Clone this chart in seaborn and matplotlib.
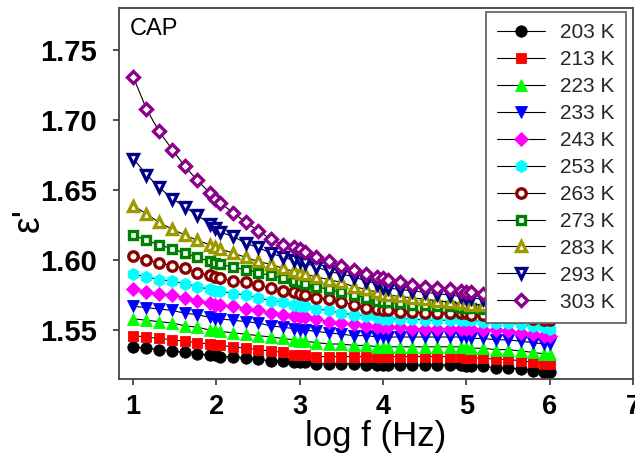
import numpy as np
import pandas as pd
import seaborn as sns
import matplotlib
matplotlib.use("Agg")
from matplotlib import pyplot as plt

sns.set_style("ticks")
plt.rcParams['font.family'] = ['Liberation Sans', 'DejaVu Sans']
plt.rcParams['xtick.bottom'] = True
plt.rcParams['ytick.left'] = True
# ------------------------------------
# log f (Hz) sample points
logf = [1.0, 1.16, 1.31, 1.47, 1.62, 1.77, 1.92, 1.98, 2.04, 2.2, 2.35, 2.5, 2.65, 2.8, 2.93,
        3.0, 3.06, 3.2, 3.35, 3.5, 3.65, 3.8, 3.93, 4.0, 4.06, 4.2, 4.35, 4.5, 4.65, 4.8, 4.93,
        5.0, 5.06, 5.2, 5.35, 5.5, 5.65, 5.8, 5.93, 6.0]

eps_203 = [1.538, 1.537, 1.536, 1.535, 1.534, 1.533, 1.532, 1.532, 1.531, 1.531, 1.530, 1.529, 1.528, 1.528, 1.527,
           1.527, 1.527, 1.526, 1.526, 1.526, 1.526, 1.525, 1.525, 1.525, 1.525, 1.525, 1.525, 1.525, 1.525, 1.525, 1.525,
           1.524, 1.524, 1.524, 1.523, 1.523, 1.522, 1.521, 1.520, 1.520]
eps_213 = [1.546, 1.545, 1.544, 1.543, 1.542, 1.541, 1.540, 1.539, 1.539, 1.538, 1.537, 1.536, 1.535, 1.534, 1.532,
           1.532, 1.532, 1.531, 1.531, 1.531, 1.531, 1.531, 1.531, 1.531, 1.531, 1.531, 1.531, 1.531, 1.531, 1.531, 1.531,
           1.530, 1.530, 1.530, 1.529, 1.529, 1.528, 1.527, 1.526, 1.526]
eps_223 = [1.558, 1.557, 1.556, 1.555, 1.553, 1.552, 1.550, 1.550, 1.549, 1.548, 1.547, 1.546, 1.545, 1.544, 1.543,
           1.542, 1.542, 1.541, 1.540, 1.540, 1.539, 1.539, 1.538, 1.538, 1.538, 1.538, 1.538, 1.538, 1.538, 1.538, 1.538,
           1.538, 1.537, 1.537, 1.536, 1.536, 1.535, 1.534, 1.533, 1.533]
eps_233 = [1.567, 1.566, 1.565, 1.564, 1.562, 1.561, 1.559, 1.558, 1.558, 1.557, 1.556, 1.555, 1.553, 1.552, 1.551,
           1.550, 1.550, 1.549, 1.548, 1.547, 1.546, 1.546, 1.545, 1.545, 1.545, 1.545, 1.545, 1.545, 1.545, 1.545, 1.545,
           1.545, 1.544, 1.544, 1.543, 1.543, 1.542, 1.541, 1.540, 1.540]
eps_243 = [1.579, 1.577, 1.576, 1.575, 1.573, 1.571, 1.569, 1.568, 1.568, 1.567, 1.565, 1.564, 1.562, 1.561, 1.560,
           1.559, 1.559, 1.558, 1.556, 1.555, 1.554, 1.553, 1.552, 1.552, 1.552, 1.552, 1.551, 1.551, 1.551, 1.551, 1.551,
           1.551, 1.551, 1.550, 1.550, 1.549, 1.548, 1.547, 1.546, 1.546]
eps_253 = [1.590, 1.588, 1.586, 1.585, 1.583, 1.581, 1.579, 1.578, 1.578, 1.576, 1.575, 1.573, 1.571, 1.570, 1.568,
           1.567, 1.567, 1.565, 1.564, 1.562, 1.561, 1.560, 1.559, 1.558, 1.558, 1.558, 1.558, 1.557, 1.557, 1.557, 1.557,
           1.557, 1.557, 1.556, 1.555, 1.555, 1.554, 1.553, 1.552, 1.551]
eps_263 = [1.603, 1.600, 1.598, 1.596, 1.594, 1.591, 1.589, 1.588, 1.587, 1.585, 1.584, 1.582, 1.580, 1.578, 1.577,
           1.576, 1.575, 1.573, 1.572, 1.570, 1.568, 1.566, 1.565, 1.564, 1.564, 1.563, 1.563, 1.562, 1.562, 1.562, 1.562,
           1.562, 1.561, 1.561, 1.560, 1.559, 1.559, 1.558, 1.557, 1.557]
eps_273 = [1.618, 1.614, 1.611, 1.608, 1.605, 1.602, 1.599, 1.598, 1.597, 1.595, 1.593, 1.591, 1.589, 1.587, 1.585,
           1.584, 1.583, 1.581, 1.579, 1.577, 1.575, 1.573, 1.571, 1.570, 1.570, 1.569, 1.568, 1.568, 1.567, 1.567, 1.566,
           1.566, 1.566, 1.565, 1.564, 1.564, 1.563, 1.562, 1.561, 1.561]
eps_283 = [1.639, 1.633, 1.627, 1.622, 1.618, 1.614, 1.611, 1.6095, 1.608, 1.605, 1.602, 1.599, 1.597, 1.594, 1.592,
           1.591, 1.590, 1.588, 1.586, 1.584, 1.581, 1.579, 1.577, 1.576, 1.575, 1.574, 1.573, 1.572, 1.571, 1.570, 1.569,
           1.569, 1.568, 1.568, 1.567, 1.566, 1.565, 1.564, 1.564, 1.563]
eps_293 = [1.6726, 1.661, 1.652, 1.644, 1.638, 1.632, 1.626, 1.623, 1.620, 1.617, 1.612, 1.609, 1.605, 1.602, 1.600,
           1.599, 1.598, 1.595, 1.592, 1.590, 1.588, 1.585, 1.583, 1.581, 1.580, 1.579, 1.578, 1.577, 1.576, 1.575, 1.574,
           1.573, 1.573, 1.572, 1.571, 1.570, 1.569, 1.568, 1.567, 1.567]
eps_303 = [1.731, 1.708, 1.692, 1.679, 1.667, 1.657, 1.648, 1.644, 1.641, 1.634, 1.627, 1.621, 1.615, 1.611, 1.609,
           1.608, 1.606, 1.602, 1.599, 1.596, 1.593, 1.590, 1.588, 1.587, 1.586, 1.584, 1.582, 1.581, 1.580, 1.579, 1.578,
           1.577, 1.577, 1.576, 1.575, 1.574, 1.573, 1.572, 1.571, 1.571]

temps = ["203 K", "213 K", "223 K", "233 K", "243 K", "253 K", "263 K", "273 K", "283 K", "293 K", "303 K"]
series = [eps_203, eps_213, eps_223, eps_233, eps_243, eps_253, eps_263, eps_273, eps_283, eps_293, eps_303]
# ---------------------
# marker, colour, filled?
markers = ["o", "s", "^", "v", "D", "h", "o", "s", "^", "v", "D"]
colors = ["#000000", "#ff0000", "#00ff00", "#0000ff", "#ff00ff", "#00ffff",
          "#8b0000", "#008000", "#9a9a00", "#00008b", "#8b008b"]
filled = [True] * 6 + [False] * 5
msizes = [8.2, 7.6, 8.8, 8.8, 7.2, 8.8, 6.8, 6.4, 7.6, 7.6, 6.4]

fh, ah = plt.subplots(figsize=(6.35, 4.53), dpi=100)
fh.subplots_adjust(left=0.1874, right=0.9969, bottom=0.1634, top=0.9817)

for i in range(len(temps)):
    df = pd.DataFrame({"logf": logf, "eps": series[i]})
    if filled[i]:
        mfc = colors[i]
        mew = 0.6
    else:
        mfc = "white"
        mew = 2.4
    sns.lineplot(data=df, x="logf", y="eps", ax=ah, color="black", linewidth=0.8,
                 marker=markers[i], markersize=msizes[i], markerfacecolor=mfc,
                 markeredgecolor=colors[i], markeredgewidth=mew, label=temps[i])

ah.set_xlim(0.83, 7.0)
ah.set_ylim(1.515, 1.78)
ah.set_xticks([1, 2, 3, 4, 5, 6, 7])
ah.set_yticks([1.55, 1.60, 1.65, 1.70, 1.75])
ah.set_yticklabels(["1.55", "1.60", "1.65", "1.70", "1.75"])
for lab in ah.get_xticklabels():
    lab.set_fontweight("bold")
    lab.set_fontsize(19.5)
for lab in ah.get_yticklabels():
    lab.set_fontweight("bold")
    lab.set_fontsize(21)
ah.tick_params(axis="x", direction="out", length=4, width=1.2, colors="#333333", pad=7, labelcolor="black")
ah.tick_params(axis="y", direction="out", length=4, width=1.2, colors="#333333", pad=12, labelcolor="black")
for sp in ah.spines.values():
    sp.set_color("#444444")
    sp.set_linewidth(1.3)

ah.set_xlabel("log f (Hz)", fontsize=25, color="black")
ah.xaxis.set_label_coords(0.5, -0.11)
ah.set_ylabel("ε'", fontsize=27, color="black")
ah.yaxis.set_label_coords(-0.14, 0.43)

ah.text(0.021, 0.975, "CAP", transform=ah.transAxes, fontsize=17, ha="left", va="top", color="black")

leg = ah.legend(loc="upper left", bbox_to_anchor=(0.714, 0.99), fontsize=15, frameon=True,
                fancybox=False, handlelength=2.3, handletextpad=0.7, labelspacing=0.38,
                borderpad=0.55, borderaxespad=0.0)
leg.get_frame().set_edgecolor("#666666")
leg.get_frame().set_linewidth(1.3)
leg.get_frame().set_alpha(1.0)

fh.savefig("out.png", dpi=100)
